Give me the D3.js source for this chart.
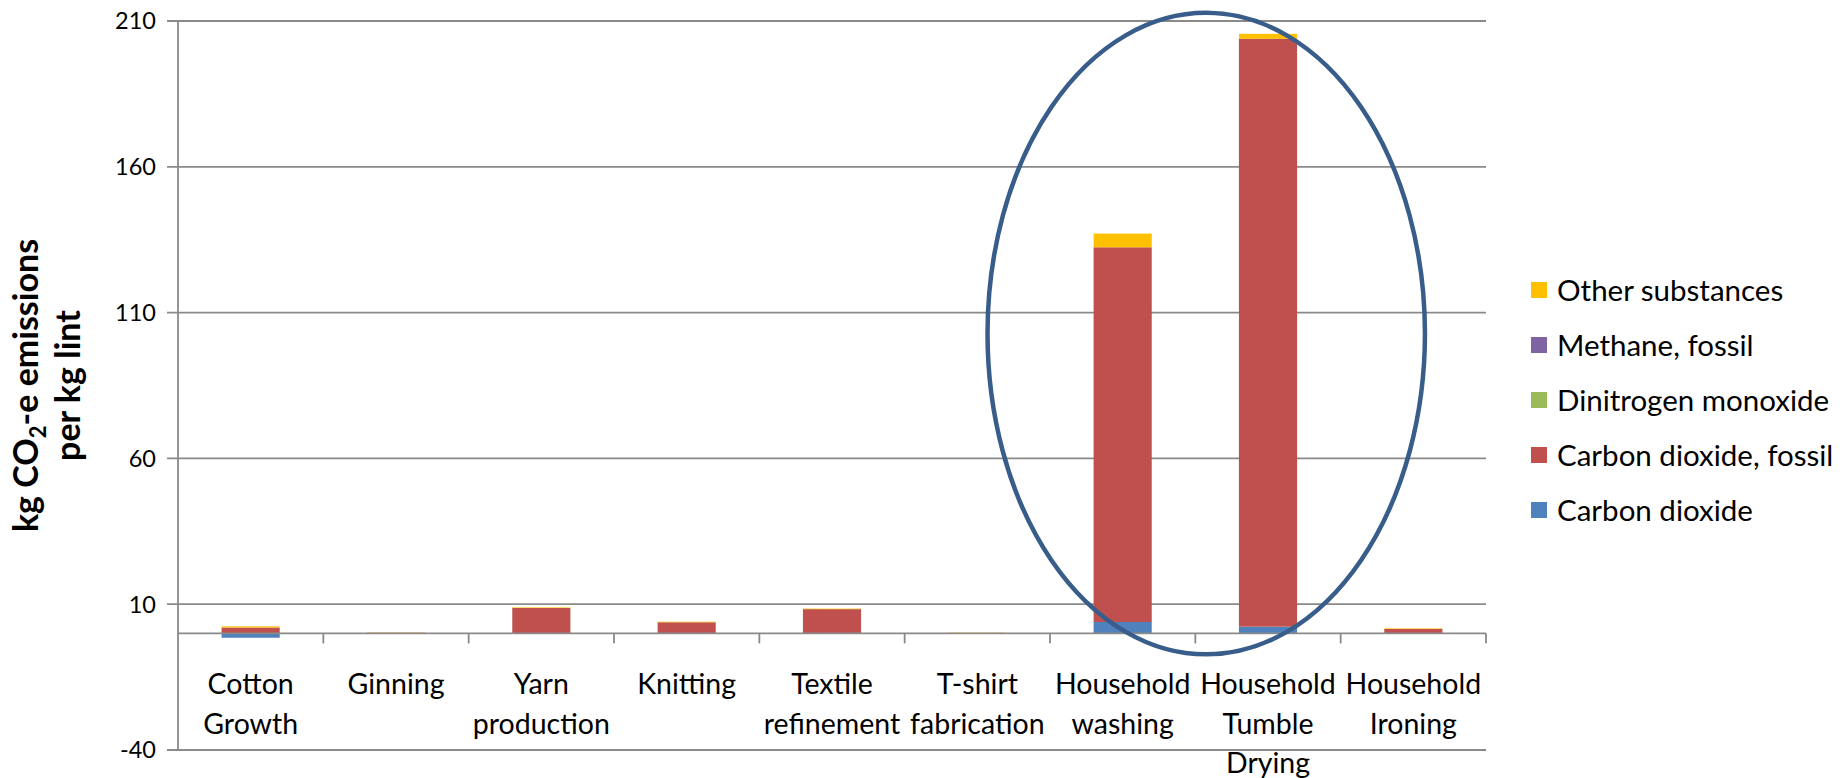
<!DOCTYPE html>
<html>
<head>
<meta charset="utf-8">
<script src="https://cdn.jsdelivr.net/npm/d3@7"></script>
<style>
  body { margin: 0; background: #fff; }
  svg { display: block; font-family: Lato, "Open Sans", sans-serif; }
</style>
</head>
<body>
<svg id="chart"></svg>
<script>
// Categories (stages of the T-shirt life cycle)
const categories = ['Cotton Growth', 'Ginning', 'Yarn production', 'Knitting', 'Textile refinement',
    'T-shirt fabrication', 'Household washing', 'Household Tumble Drying', 'Household Ironing'];

// Series values, kg CO2-e per kg lint (stacked bottom to top)
const carbonDioxide       = [-1.5, 0,   0,   0,   0,   0,    3.9,   2.3,  0];
const carbonDioxideFossil = [2.0,  0.2, 8.7, 3.8, 8.3, 0.15, 128.5, 201.6, 1.5];
const dinitrogenMonoxide  = [0,    0,   0,   0,   0,   0,    0,     0,    0];
const methaneFossil       = [0,    0,   0,   0,   0,   0,    0,     0,    0];
const otherSubstances     = [0.4,  0.1, 0.2, 0.2, 0.2, 0.1,  4.7,   1.7,  0.2];

const seriesNames = ['Carbon dioxide', 'Carbon dioxide, fossil', 'Dinitrogen monoxide', 'Methane, fossil', 'Other substances'];
const seriesColors = ['#4F81BD', '#C0504D', '#9BBB59', '#8064A2', '#FFC000'];

const yTicks = [-40, 10, 60, 110, 160, 210];

// highlighted region (category index units, value units)
const ellipseX = [5.57, 8.58];
const ellipseY = [-7.2, 212.8];

const W = 1845, H = 778;
const margin = { top: 21, right: 359, bottom: 28, left: 178 };
const width = W - margin.left - margin.right;
const height = H - margin.top - margin.bottom;

const svg = d3.select('#chart')
    .attr('width', W)
    .attr('height', H);

const g = svg.append('g')
    .attr('transform', `translate(${margin.left},${margin.top})`);

const rows = categories.map((c, i) => ({
    category: c,
    'Carbon dioxide': carbonDioxide[i],
    'Carbon dioxide, fossil': carbonDioxideFossil[i],
    'Dinitrogen monoxide': dinitrogenMonoxide[i],
    'Methane, fossil': methaneFossil[i],
    'Other substances': otherSubstances[i]
}));

const stacked = d3.stack()
    .keys(seriesNames)
    .offset(d3.stackOffsetDiverging)(rows);

const x = d3.scaleBand()
    .domain(categories)
    .range([0, width])
    .paddingInner(0.6)
    .paddingOuter(0.3);

const xIndex = d3.scaleLinear()
    .domain([0, categories.length])
    .range([0, width]);

const y = d3.scaleLinear()
    .domain([-40, 210])
    .range([height, 0]);

// gridlines
g.append('g')
    .selectAll('line')
    .data(yTicks)
    .join('line')
    .attr('x1', -11)
    .attr('x2', width)
    .attr('y1', d => y(d))
    .attr('y2', d => y(d))
    .attr('stroke', '#8a8a8a')
    .attr('stroke-width', 1.8);

// y tick labels
g.append('g')
    .selectAll('text')
    .data(yTicks)
    .join('text')
    .attr('x', -22)
    .attr('y', d => y(d))
    .attr('dy', '0.36em')
    .attr('text-anchor', 'end')
    .attr('font-size', 23.5)
    .attr('fill', '#000')
    .text(d => d);

// y axis line
g.append('line')
    .attr('x1', 0).attr('x2', 0)
    .attr('y1', y(210)).attr('y2', y(-40))
    .attr('stroke', '#8a8a8a')
    .attr('stroke-width', 1.8);

// bars
g.append('g')
    .selectAll('g')
    .data(stacked)
    .join('g')
    .attr('fill', (d, i) => seriesColors[i])
    .selectAll('rect')
    .data(d => d)
    .join('rect')
    .attr('x', d => x(d.data.category))
    .attr('width', x.bandwidth())
    .attr('y', d => y(Math.max(d[0], d[1])))
    .attr('height', d => Math.abs(y(d[0]) - y(d[1])));

// category axis at zero
const xAxis = g.append('g').attr('transform', `translate(0,${y(0)})`);
xAxis.append('line')
    .attr('x1', 0).attr('x2', width)
    .attr('stroke', '#8a8a8a')
    .attr('stroke-width', 1.8);
xAxis.selectAll('line.tick')
    .data(d3.range(1, categories.length + 1))
    .join('line')
    .attr('class', 'tick')
    .attr('x1', d => xIndex(d)).attr('x2', d => xIndex(d))
    .attr('y1', 0).attr('y2', 10)
    .attr('stroke', '#8a8a8a')
    .attr('stroke-width', 1.8);

// category labels, one word per line like the original wrapping
const labels = g.append('g')
    .selectAll('text')
    .data(categories)
    .join('text')
    .attr('text-anchor', 'middle')
    .attr('font-size', 28.5)
    .attr('fill', '#000')
    .attr('transform', d => `translate(${x(d) + x.bandwidth() / 2},${y(0) + 61})`);
labels.selectAll('tspan')
    .data(d => d.split(' '))
    .join('tspan')
    .attr('x', 0)
    .attr('y', (d, i) => i * 39.5)
    .text(d => d);

// y axis title
const title = svg.append('text')
    .attr('transform', `translate(0,${margin.top + height / 2}) rotate(-90)`)
    .attr('text-anchor', 'middle')
    .attr('font-size', 34)
    .attr('font-weight', 'bold')
    .attr('fill', '#000');
const l1 = title.append('tspan').attr('x', 0).attr('y', 38);
l1.append('tspan').text('kg CO');
l1.append('tspan').attr('font-size', 22).attr('dy', 8).text('2');
l1.append('tspan').attr('dy', -8).text('-e emissions');
title.append('tspan').attr('x', 0).attr('y', 80).text('per kg lint');

// highlight ellipse
g.append('ellipse')
    .attr('cx', (xIndex(ellipseX[0]) + xIndex(ellipseX[1])) / 2)
    .attr('cy', (y(ellipseY[0]) + y(ellipseY[1])) / 2)
    .attr('rx', (xIndex(ellipseX[1]) - xIndex(ellipseX[0])) / 2)
    .attr('ry', (y(ellipseY[0]) - y(ellipseY[1])) / 2)
    .attr('fill', 'none')
    .attr('stroke', '#385D8A')
    .attr('stroke-width', 4.5);

// legend, top item is the top of the stack
const legendOrder = d3.range(seriesNames.length).reverse();
const legend = svg.append('g')
    .attr('transform', 'translate(1531,290)')
    .selectAll('g')
    .data(legendOrder)
    .join('g')
    .attr('transform', (d, i) => `translate(0,${i * 55})`);
legend.append('rect')
    .attr('x', 0).attr('y', -8)
    .attr('width', 16).attr('height', 16)
    .attr('fill', d => seriesColors[d]);
legend.append('text')
    .attr('x', 26)
    .attr('dy', '0.36em')
    .attr('font-size', 29.5)
    .attr('fill', '#000')
    .text(d => seriesNames[d]);
</script>
</body>
</html>
